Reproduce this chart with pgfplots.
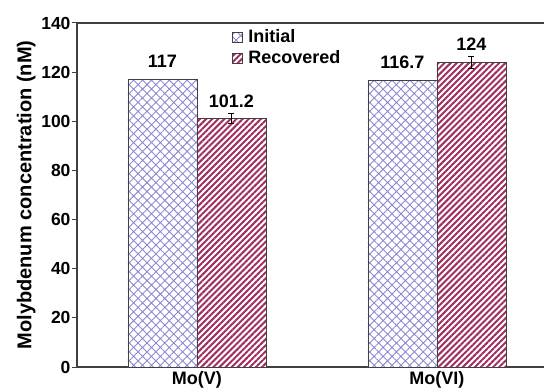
\documentclass[border=0pt]{standalone}
\usepackage{fontspec}
\setmainfont{Liberation Sans}
\usepackage{pgfplots}
\pgfplotsset{compat=1.18}
\usetikzlibrary{patterns.meta}
\definecolor{hatchblue}{HTML}{8A8AD0}
\definecolor{stripered}{HTML}{A02E60}
\definecolor{axgray}{HTML}{404040}
\newcommand{\lbl}{\fontsize{18bp}{20bp}\selectfont\bfseries}
\newcommand{\tlbl}{\fontsize{17.5bp}{20bp}\selectfont\bfseries}
\begin{document}
\begin{tikzpicture}
\begin{axis}[name=ax,
  scale only axis, width=467bp, height=344bp,
  xmin=-0.5, xmax=1.446, ymin=0, ymax=140,
  axis x line*=bottom, axis y line*=left,
  axis line style={axgray, line width=1.1pt, -},
  ytick={0,20,...,140},
  tick align=outside, major tick length=5bp,
  tick style={axgray, line width=1pt},
  xtick={0,1}, xticklabels={Mo(V),Mo(VI)},
  x tick style={draw=none},
  extra x ticks={0.5}, extra x tick labels={},
  extra x tick style={tick style={axgray, line width=1pt, draw=axgray}, major tick length=5bp},
  xticklabel style={yshift=4bp, font=\lbl},
  /pgf/number format/assume math mode=true,
  tick label style={font=\tlbl, text=black},
  yticklabel style={xshift=2bp},
  ylabel={Molybdenum concentration (nM)},
  ylabel style={font=\fontsize{20bp}{22bp}\selectfont\bfseries, yshift=-1bp},
  ybar, bar width=0.2875,
  clip=false,
  legend style={at={(rel axis cs:0.332,0.985)}, anchor=north west, draw=none, fill=none,
    font=\lbl, row sep=3.5bp, inner sep=0bp, nodes={inner sep=1.5bp}},
  legend image code/.code={\draw[#1, line width=0.5pt] (2bp,-5bp) rectangle (12bp,5bp); \path (16bp,0bp);},
  legend cell align=left,
]
\addplot[bar shift=-0.14375, draw=axgray, line width=0.7pt, fill=white, postaction={pattern={Hatch[angle=45,distance=6.3bp,line width=0.9bp]}, pattern color=hatchblue}]
  coordinates {(0,117) (1,116.7)};
\addplot[bar shift=0.14375, draw=axgray, line width=0.7pt, fill=white, postaction={pattern={Lines[angle=45,distance=4.3bp,line width=2bp]}, pattern color=stripered},
  error bars/.cd, y dir=both, y explicit, error bar style={black, line width=0.7pt}, error mark options={rotate=90, mark size=3bp, black, line width=0.7pt}]
  coordinates {(0,101.2) +- (0,2) (1,124) +- (0,2.6)};
\legend{Initial, Recovered}
\draw[axgray, line width=1.1pt] (rel axis cs:0,1) -- (rel axis cs:1,1);
\node[font=\lbl, anchor=south] at (axis cs:-0.14375,120.3) {117};
\node[font=\lbl, anchor=south] at (axis cs:0.14375,104) {101.2};
\node[font=\lbl, anchor=south] at (axis cs:0.85625,120.1) {116.7};
\node[font=\lbl, anchor=south] at (axis cs:1.14375,127.4) {124};
\end{axis}
\pgfresetboundingbox
\path[use as bounding box] ([xshift=-77bp,yshift=-25bp]ax.south west) rectangle ([yshift=23bp]ax.north east);
\end{tikzpicture}
\end{document}
